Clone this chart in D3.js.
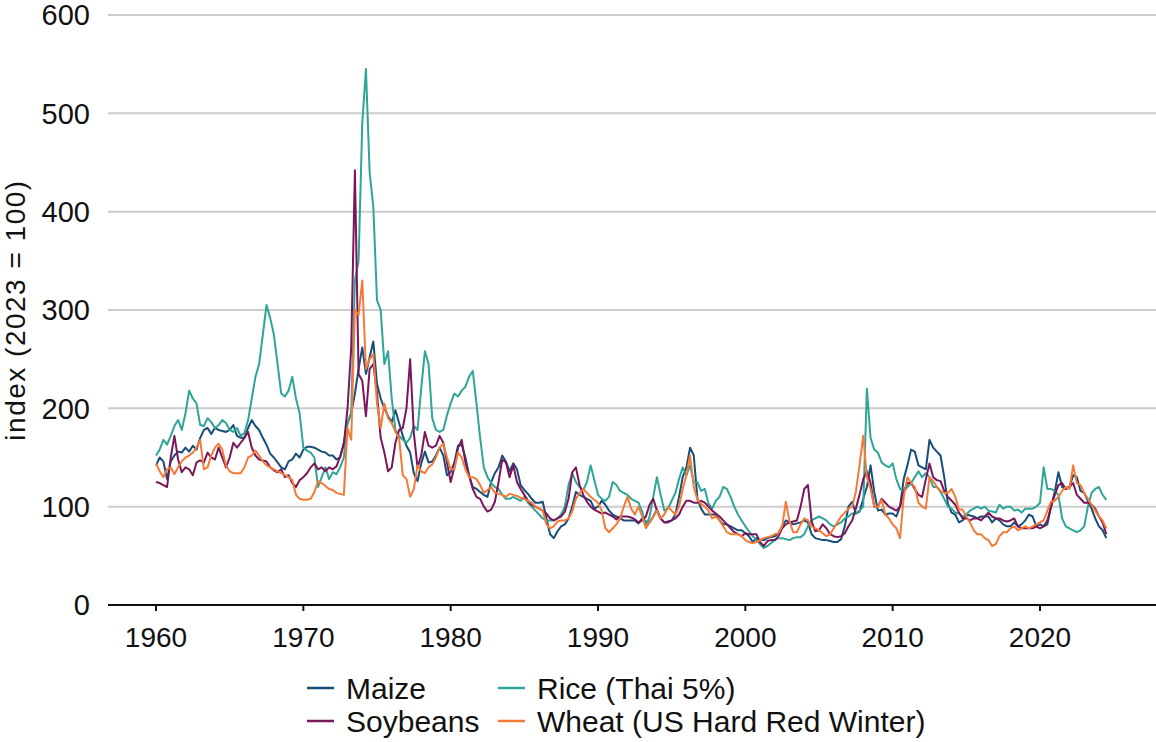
<!DOCTYPE html>
<html>
<head>
<meta charset="utf-8">
<script src="https://cdn.jsdelivr.net/npm/d3@7"></script>
<style>
  html, body { margin: 0; padding: 0; background: #fff; }
  svg { display: block; }
  text { font-family: "Liberation Sans", Arial, sans-serif; fill: #111; }
</style>
</head>
<body>
<svg id="chart" width="1156" height="742"></svg>
<script>
// Quarterly observations from 1960 Q1, index (2023 = 100)
const startYear = 1960;
const step = 0.25;

const maize = [
  142,150,146,128, 146,152,156,155, 160,156,162,158, 170,178,180,174,
  180,178,177,176, 178,183,172,170, 170,180,188,182, 178,170,163,154,
  150,145,140,138, 146,148,154,150, 158,161,161,160, 158,156,155,152,
  152,148,150,165, 185,195,215,240, 262,235,252,268, 225,210,200,192,
  186,198,185,172, 162,155,134,126, 144,156,145,146, 152,160,152,132,
  135,145,162,163, 150,132,120,118, 115,112,110,125, 134,140,152,146,
  136,144,138,122, 117,113,108,104, 104,105,88,72, 68,75,80,82,
  88,100,115,112, 110,108,106,98, 100,106,102,96, 92,90,88,86,
  86,86,86,83, 88,85,84,90, 97,88,84,85, 86,92,110,130,
  140,160,152,108, 98,92,92,92, 92,86,82,82, 80,78,76,76,
  73,70,64,68, 66,66,68,69, 70,73,80,86, 84,82,83,84,
  86,84,72,68, 67,66,66,65, 64,64,67,80, 100,105,93,95,
  108,120,142,115, 96,97,92,93, 93,90,100,128, 142,158,156,142,
  140,138,168,160, 156,152,130,103, 94,92,84,86, 92,91,90,88,
  90,90,90,84, 88,86,82,80, 80,84,80,82, 86,92,90,80,
  82,80,82,100, 115,135,120,118, 120,132,130,116, 114,106,98,88,
  80,76,68
];

const rice = [
  152,158,168,163, 172,182,188,178, 195,218,210,205, 183,182,190,186,
  180,183,188,185, 178,176,180,172, 175,188,210,232, 245,275,305,292,
  275,245,215,212, 218,232,210,195, 160,157,155,150, 120,130,140,128,
  135,133,140,150, 186,195,330,350, 490,545,440,405, 310,300,245,258,
  210,178,172,168, 165,170,182,178, 220,258,245,190, 178,176,178,193,
  205,215,212,218, 222,232,238,205, 170,140,130,124, 120,118,112,108,
  108,110,108,106, 110,104,100,96, 92,88,86,86, 86,88,92,100,
  122,134,125,120, 117,125,142,127, 112,108,106,110, 125,122,116,114,
  112,108,106,104, 95,80,90,110, 130,112,96,98, 106,114,128,140,
  132,142,125,125, 116,118,103,98, 106,110,120,118, 110,100,92,86,
  80,75,70,66, 62,58,60,63, 66,68,68,67, 66,68,69,69,
  72,80,86,88, 90,88,86,82, 80,82,84,88, 90,93,93,96,
  100,220,170,158, 155,145,142,140, 144,128,118,115, 120,124,130,136,
  130,134,130,120, 120,115,108,100, 98,94,93,90, 92,96,98,100,
  98,100,96,95, 94,102,98,100, 100,96,97,94, 98,98,98,100,
  104,140,118,118, 116,112,88,80, 78,76,74,76, 80,100,114,118,
  120,112,107
];

const soybeans = [
  125,124,122,120, 150,172,148,135, 140,138,132,145, 147,145,155,150,
  148,160,150,140, 150,165,160,165, 170,176,160,152, 148,147,146,140,
  137,135,138,130, 132,124,120,127, 130,134,140,144, 138,140,136,140,
  138,141,151,164, 200,262,442,235, 228,192,240,245, 215,170,155,136,
  140,165,178,180, 200,250,175,140, 152,176,162,160, 162,172,165,145,
  125,140,160,168, 145,132,118,110, 108,100,95,97, 105,125,148,145,
  130,142,125,118, 112,106,102,100, 98,96,93,88, 86,88,90,95,
  108,135,140,122, 112,105,100,97, 95,93,94,92, 90,87,90,90,
  90,89,87,84, 86,90,102,108, 96,88,84,84, 86,88,92,100,
  106,106,104,104, 106,104,100,96, 93,90,86,82, 78,74,72,70,
  73,72,72,72, 64,60,65,66, 66,70,78,82, 84,85,86,100,
  118,122,85,75, 76,82,78,72, 70,69,70,73, 80,86,98,112,
  128,136,124,100, 100,108,104,100, 98,96,100,116, 124,124,118,112,
  110,128,144,130, 127,126,116,110, 106,102,94,88, 88,86,88,88,
  86,90,94,90, 88,88,86,85, 86,88,80,78, 78,78,78,80,
  78,80,86,100, 112,122,124,118, 120,124,112,108, 104,104,102,98,
  90,84,72
];

const wheat = [
  144,136,130,138, 140,133,140,146, 150,152,155,160, 168,138,140,152,
  160,164,158,142, 136,134,134,134, 140,150,152,157, 152,146,142,140,
  138,136,134,132, 130,127,112,108, 107,107,108,115, 126,124,121,118,
  117,114,113,112, 180,168,300,295, 330,240,250,255, 205,180,205,190,
  185,176,170,132, 128,110,118,142, 136,134,140,143, 150,160,164,150,
  138,138,155,150, 138,130,130,128, 122,114,117,120, 114,113,112,110,
  113,112,111,109, 108,106,104,100, 98,96,82,78, 80,85,86,86,
  88,95,108,114, 118,114,110,107, 104,96,78,74, 78,82,88,100,
  110,98,92,100, 90,78,84,90, 96,88,92,100, 96,92,100,118,
  132,152,120,107, 103,100,96,88, 90,86,80,74, 72,72,72,70,
  66,64,63,64, 66,68,69,70, 72,73,80,105, 85,74,74,82,
  88,86,80,78, 76,73,70,72, 78,84,90,94, 98,100,115,142,
  172,130,118,100, 100,107,92,88, 82,78,68,110, 130,124,120,104,
  100,98,130,126, 120,116,114,114, 118,110,97,97, 90,84,76,72,
  72,68,66,60, 62,70,74,74, 78,80,76,78, 80,78,80,82,
  84,86,96,105, 106,110,116,120, 118,142,124,122, 114,108,102,96,
  90,86,78
];

const seriesNames = ["Maize", "Rice (Thai 5%)", "Soybeans", "Wheat (US Hard Red Winter)"];
const seriesColors = ["#174e79", "#2ea597", "#7a1659", "#f57a37"];
const seriesValues = [maize, rice, soybeans, wheat];

const yTicks = [0, 100, 200, 300, 400, 500, 600];
const xTicks = [1960, 1970, 1980, 1990, 2000, 2010, 2020];
const yTitle = "index (2023 = 100)";

const svg = d3.select("#chart");

const x = d3.scaleLinear().domain([1960, 2020]).range([156, 1040]);
const y = d3.scaleLinear().domain([0, 600]).range([605, 15]);
const plotLeft = 108, plotRight = 1156;

// gridlines
svg.append("g")
  .selectAll("line")
  .data(yTicks.filter(d => d > 0))
  .join("line")
  .attr("x1", plotLeft).attr("x2", plotRight)
  .attr("y1", d => y(d)).attr("y2", d => y(d))
  .attr("stroke", "#cccccc").attr("stroke-width", 2);

// y labels
svg.append("g")
  .selectAll("text")
  .data(yTicks)
  .join("text")
  .attr("x", 90)
  .attr("y", d => y(d))
  .attr("dy", "0.36em")
  .attr("text-anchor", "end")
  .attr("font-size", 29)
  .text(d => d);

// y title
svg.append("text")
  .attr("transform", `translate(25,${y(300)}) rotate(-90)`)
  .attr("text-anchor", "middle")
  .attr("font-size", 28)
  .attr("letter-spacing", 1.5)
  .text(yTitle);

// lines
const line = d3.line()
  .x((d, i) => x(startYear + i * step))
  .y(d => y(d));

svg.append("g")
  .selectAll("path")
  .data(seriesValues)
  .join("path")
  .attr("fill", "none")
  .attr("stroke", (d, i) => seriesColors[i])
  .attr("stroke-width", 2)
  .attr("stroke-linejoin", "round")
  .attr("d", line);

// x axis
const xAxis = svg.append("g").attr("transform", `translate(0,${y(0)})`);
xAxis.append("line")
  .attr("x1", plotLeft).attr("x2", plotRight)
  .attr("stroke", "#111").attr("stroke-width", 2);
xAxis.selectAll(".tick")
  .data(xTicks)
  .join("line")
  .attr("x1", d => x(d)).attr("x2", d => x(d))
  .attr("y1", 0).attr("y2", 6)
  .attr("stroke", "#111").attr("stroke-width", 2);
xAxis.selectAll("text")
  .data(xTicks)
  .join("text")
  .attr("x", d => x(d))
  .attr("y", 42)
  .attr("text-anchor", "middle")
  .attr("font-size", 28)
  .text(d => d);

// legend
const legendPos = [[307, 688], [498, 688], [307, 721], [498, 721]];
const legendOrder = [0, 1, 2, 3];
const lg = svg.append("g")
  .selectAll("g")
  .data(legendOrder)
  .join("g")
  .attr("transform", (d, i) => `translate(${legendPos[i][0]},${legendPos[i][1]})`);
lg.append("line")
  .attr("x1", 0).attr("x2", 27)
  .attr("y1", 0).attr("y2", 0)
  .attr("stroke", d => seriesColors[d]).attr("stroke-width", 2.5);
lg.append("text")
  .attr("x", 39)
  .attr("y", 0)
  .attr("dy", "0.36em")
  .attr("font-size", 30)
  .text(d => seriesNames[d]);
</script>
</body>
</html>
